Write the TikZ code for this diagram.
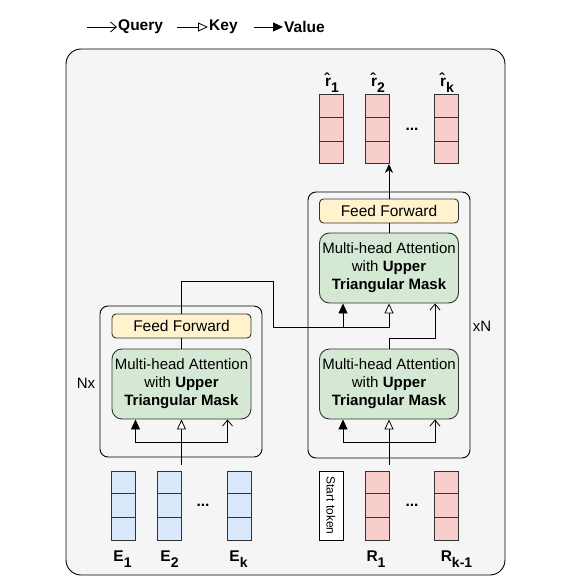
\documentclass[tikz,border=0pt]{standalone}
\usepackage{fontspec}
\setmainfont{Liberation Sans}
\usetikzlibrary{arrows.meta}

\definecolor{bggray}{HTML}{F5F5F5}
\definecolor{eblue}{HTML}{DAE8FC}
\definecolor{rpink}{HTML}{F8CECC}
\definecolor{mgreen}{HTML}{D5E8D4}
\definecolor{fyellow}{HTML}{FFF2CC}
\definecolor{edge}{HTML}{333333}

% low subscript for the column labels
\newcommand{\lsub}[1]{\raisebox{-6pt}{\fontsize{14}{14}\selectfont #1}}

\tikzset{
  blk/.style={draw, line width=0.9pt, rounded corners=8pt, minimum width=162pt},
  ffbox/.style={draw=edge, line width=0.9pt, fill=fyellow, rounded corners=4pt,
    minimum width=139pt, minimum height=24pt, inner sep=0pt,
    font=\fontsize{15.5}{18}\selectfont},
  mhabox/.style={draw=edge, line width=0.9pt, fill=mgreen, rounded corners=10pt,
    minimum width=139pt, minimum height=70pt, inner sep=0pt, align=center},
  vcol/.style={draw=edge, line width=0.9pt, minimum width=24pt, minimum height=69pt, inner sep=0pt},
  lbl/.style={font=\fontsize{15.5}{18}\selectfont\bfseries, inner sep=0pt, anchor=base},
  legtxt/.style={font=\fontsize{15.5}{18}\selectfont\bfseries, inner sep=1pt, anchor=west},
  qryarr/.style={-{Straight Barb[length=6pt,width=10pt]}, line width=0.8pt},
  keyarr/.style={-{Triangle[open,fill=white,length=10pt,width=9pt]}, line width=0.8pt},
  valarr/.style={-{Triangle[length=10pt,width=9pt]}, line width=0.8pt},
  outarr/.style={-{Stealth[length=9pt,width=8pt]}, line width=0.8pt},
  wire/.style={line width=0.8pt}
}

\begin{document}
\begin{tikzpicture}[x=1pt,y=-1pt, every node/.style={font=\fontsize{15}{18}\selectfont}]
  \useasboundingbox (0,0) rectangle (583,583);
  \draw[rounded corners=15pt, fill=bggray, line width=0.9pt] (66,49) rectangle (505,575);

  % legend
  \node[legtxt] (lq) at (117,27) {Query};
  \node[legtxt] (lk) at (208,27) {Key};
  \node[legtxt] (lv) at (283,27) {Value};
  \coordinate (lq0) at (87,27);
  \coordinate (lk0) at (177,27);
  \coordinate (lv0) at (254,27);
  \draw[qryarr] (lq0) -- (lq.west);
  \draw[keyarr] (lk0) -- (lk.west);
  \draw[valarr] (lv0) -- (lv.west);

  % encoder stack
  \node[blk, minimum height=151pt] (enc) at (181,381.5) {};
  \node[ffbox] (encff) at (181.5,326) {Feed Forward};
  \node[mhabox] (encmha) at (181.5,384) {Multi-head Attention\\with \textbf{Upper}\\\textbf{Triangular Mask}};
  \node (nx) at (86,383) {Nx};

  % decoder stack
  \node[blk, minimum height=266pt] (dec) at (389,325) {};
  \node[ffbox] (decff) at (389,211) {Feed Forward};
  \node[mhabox] (decmha2) at (389,268) {Multi-head Attention\\with \textbf{Upper}\\\textbf{Triangular Mask}};
  \node[mhabox] (decmha1) at (389,384) {Multi-head Attention\\with \textbf{Upper}\\\textbf{Triangular Mask}};
  \node (xn) at (482,326) {xN};

  % token columns
  \foreach \nm/\cx/\cy/\clr in {e1/123/505.5/eblue, e2/169.5/505.5/eblue, ek/239/505.5/eblue,
      r1/377.5/505.5/rpink, rk/446.5/505.5/rpink,
      o1/331/129/rpink, o2/377.5/129/rpink, ok/446.5/129/rpink}
  { \node[vcol, fill=\clr] (\nm) at (\cx,\cy) {};
    \draw[draw=edge, line width=0.9pt] ([yshift=-23pt]\nm.north west) -- ([yshift=-23pt]\nm.north east);
    \draw[draw=edge, line width=0.9pt] ([yshift=23pt]\nm.south west) -- ([yshift=23pt]\nm.south east);
  }
  \node[vcol, draw=black, fill=white, rotate=-90, minimum width=69pt, minimum height=24pt,
    font=\fontsize{12}{12}\selectfont] (st) at (331,505.5) {Start token};

  % labels
  \node[lbl] (le1) at (122.5,561) {E\lsub{1}};
  \node[lbl] (le2) at (169.5,561) {E\lsub{2}};
  \node[lbl] (lek) at (238.5,561) {E\lsub{k}};
  \node[lbl] (lr1) at (376,561) {R\lsub{1}};
  \node[lbl] (lrk) at (456.5,561) {R\lsub{k-1}};
  \node[lbl] (lo1) at (332,87) {r̂\lsub{1}};
  \node[lbl] (lo2) at (378,87) {r̂\lsub{2}};
  \node[lbl] (lok) at (447,87) {r̂\lsub{k}};
  \node[lbl] (d1) at (203,506) {...};
  \node[lbl] (d2) at (412,506) {...};
  \node[lbl] (d3) at (412,131) {...};

  % encoder wiring
  \draw[wire] (encmha) -- (encff);
  \coordinate (encin) at (181.5,465);
  \coordinate (encj) at (181.5,442);
  \coordinate (v0) at ([xshift=-46pt]encmha.south);
  \coordinate (q0) at ([xshift=46pt]encmha.south);
  \draw[keyarr] (encin) -- (encmha.south);
  \draw[valarr] (encj) -| (v0);
  \draw[qryarr] (encj) -| (q0);

  % decoder wiring
  \draw[wire] (decmha2) -- (decff);
  \draw[outarr] (decff.north) -- (decff.north |- o2.south);
  \coordinate (decin) at (389,465);
  \coordinate (decj) at (389,442);
  \coordinate (v1) at ([xshift=-46pt]decmha1.south);
  \coordinate (q1) at ([xshift=46pt]decmha1.south);
  \draw[keyarr] (decin) -- (decmha1.south);
  \draw[valarr] (decj) -| (v1);
  \draw[qryarr] (decj) -| (q1);
  \coordinate (v2) at ([xshift=-46pt]decmha2.south);
  \coordinate (q2) at ([xshift=46pt]decmha2.south);
  \coordinate (kj) at (389,327);
  \coordinate (vj) at (343,327);
  \draw[keyarr] (encff.north) |- (273,281) |- (kj) -- (decmha2.south);
  \draw[valarr] (vj) -- (v2);
  \draw[qryarr] (decmha1.north) -- (389,338) -| (q2);
\end{tikzpicture}
\end{document}
